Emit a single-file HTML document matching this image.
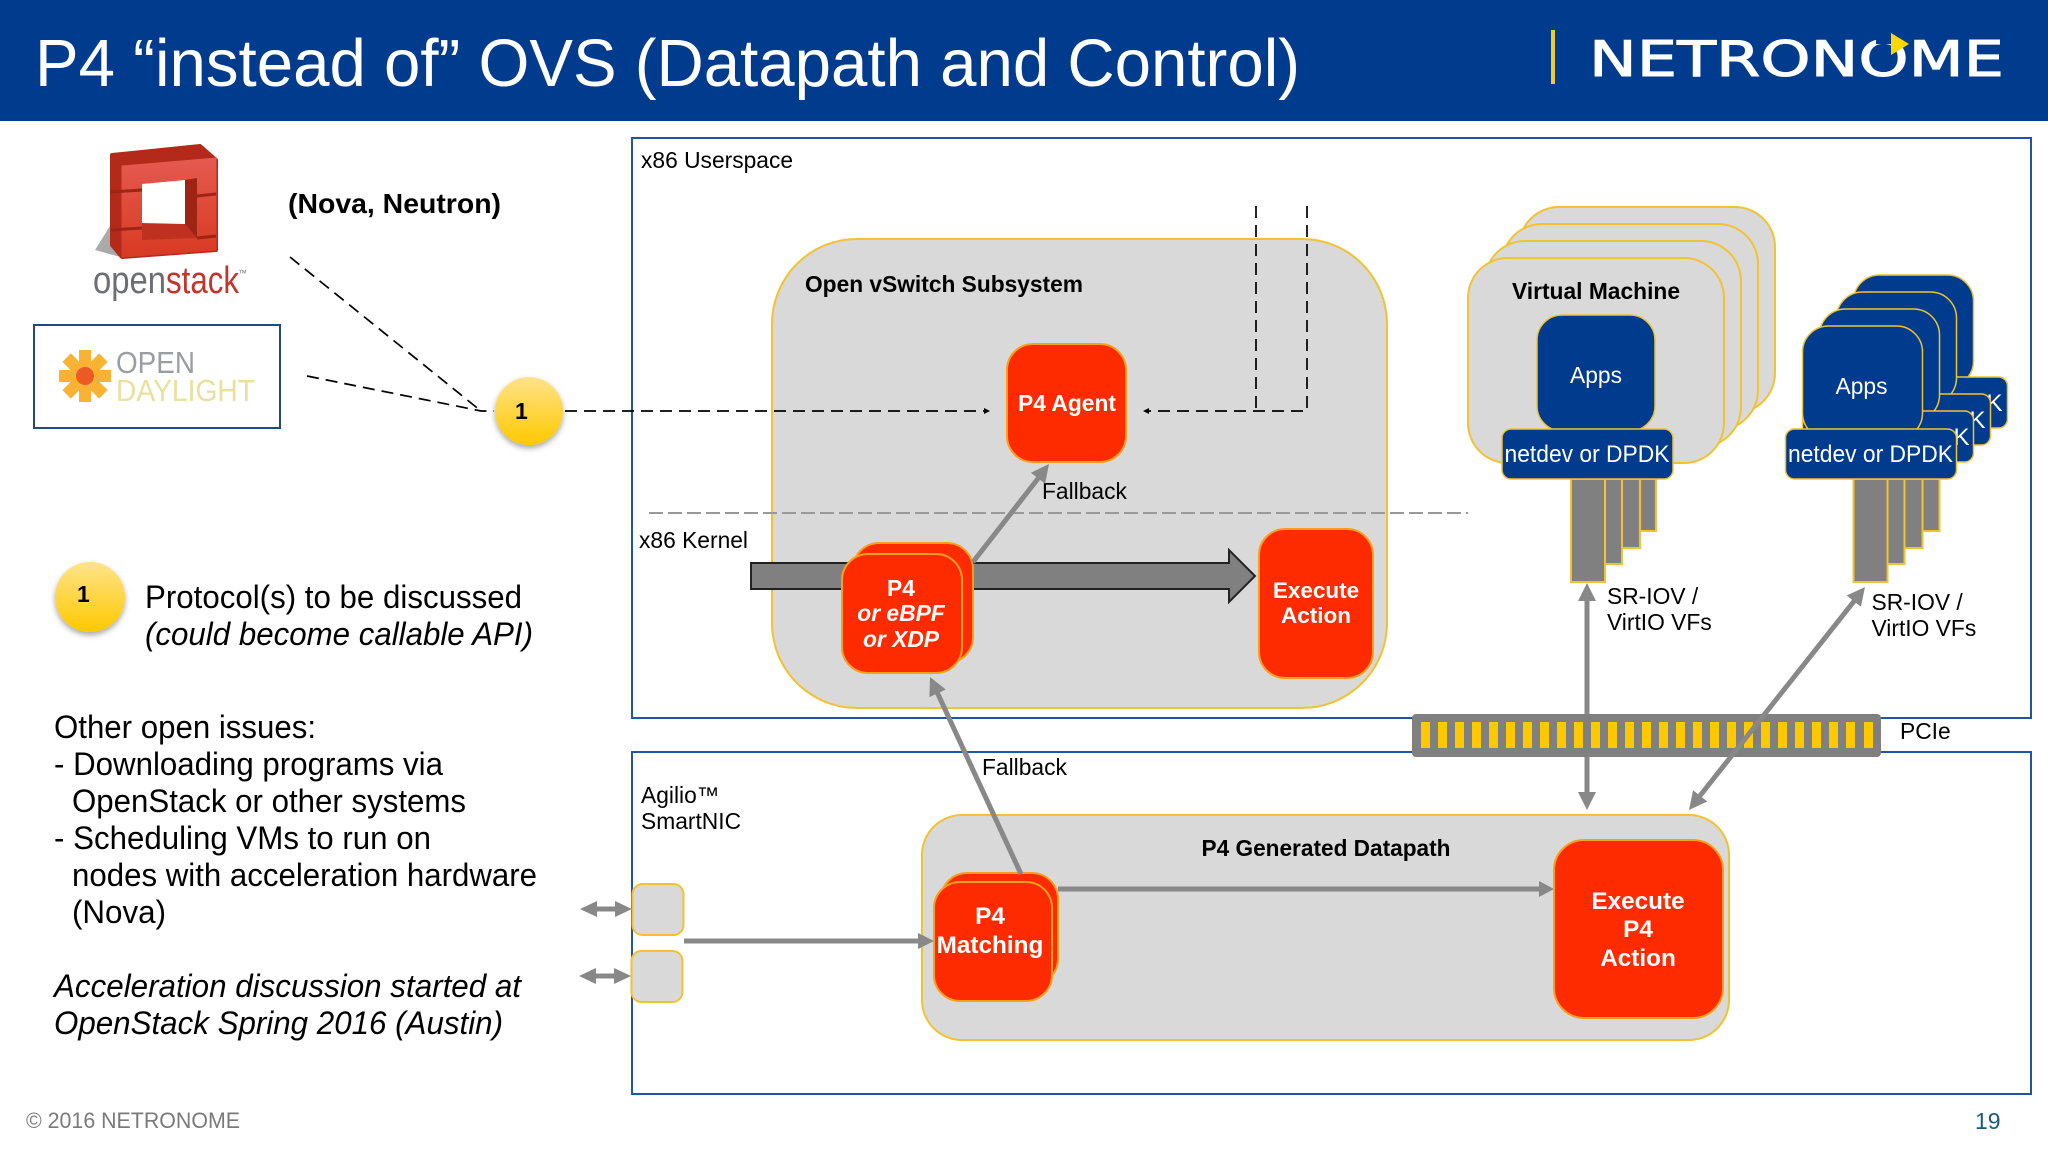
<!DOCTYPE html>
<html><head><meta charset="utf-8"><style>
html,body{margin:0;padding:0;background:#fff;width:2048px;height:1152px;overflow:hidden}
svg{display:block}
text{font-family:"Liberation Sans",sans-serif;fill:#000}
.g{fill:#d9d9d9;stroke:#f2c230;stroke-width:2}
.r{fill:#ff2b00;stroke:#f9a01b;stroke-width:2}
.b{fill:#013b8e;stroke:#f2c230;stroke-width:1.5}
.bar{fill:#808080;stroke:#f2c230;stroke-width:2}
.w{fill:#fff}
.wb{fill:#fff;font-weight:bold}
.l{font-size:22.8px}
.bd{font-size:22.8px;font-weight:bold}
.t{font-size:32px}
.ar{stroke:#888;stroke-width:5;fill:none}
.h{fill:#888}
.d{stroke:#000;stroke-width:1.7;stroke-dasharray:12 7;fill:none}
</style></head><body>
<svg width="2048" height="1152" viewBox="0 0 2048 1152" xmlns="http://www.w3.org/2000/svg">
<defs>
<linearGradient id="yg" x1="0" y1="0" x2="0" y2="1"><stop offset="0" stop-color="#ffe38a"/><stop offset="1" stop-color="#ffc800"/></linearGradient>
<linearGradient id="rg" x1="0" y1="0" x2="0" y2="1"><stop offset="0" stop-color="#e55a50"/><stop offset="1" stop-color="#d83a22"/></linearGradient>
<filter id="sh" x="-30%" y="-30%" width="160%" height="160%"><feDropShadow dx="0" dy="3" stdDeviation="3" flood-color="#000" flood-opacity=".35"/></filter>
</defs>

<!-- header -->
<rect x="0" y="0" width="2048" height="121" fill="#013b8e"/>
<text x="35" y="86" font-size="67" class="w" textLength="1265" lengthAdjust="spacingAndGlyphs">P4 “instead of” OVS (Datapath and Control)</text>
<rect x="1551" y="30" width="4" height="54" fill="#f2c92e"/>
<text x="1589" y="76" font-size="49" class="w" style="font-family:'DejaVu Sans',sans-serif;stroke:#fff;stroke-width:1" textLength="415" lengthAdjust="spacingAndGlyphs">NETRONOME</text>
<rect x="1876" y="36" width="33" height="8" fill="#013b8e"/>
<polygon points="1891,33 1909,44 1891,55" fill="#ffd800"/>

<!-- containers -->
<rect x="632" y="138" width="1399" height="580" fill="#fff" stroke="#1f54a6" stroke-width="2"/>
<rect x="632" y="752" width="1399" height="342" fill="#fff" stroke="#1f54a6" stroke-width="2"/>
<text x="641" y="168" class="l">x86 Userspace</text>

<!-- openstack logo -->
<polygon points="95,250 110,226 124,258" fill="#aaa"/>
<polygon points="112,155 200,146 216,160 216,250 122,257 112,245" fill="#b32a1b" stroke="#b32a1b" stroke-width="4" stroke-linejoin="round"/>
<polygon points="122,166 216,158 216,250 122,257" fill="url(#rg)" stroke="url(#rg)" stroke-width="1"/>
<polygon points="185,180 197,178 197,238 185,224" fill="#9e2413"/>
<polygon points="142,223 185,224 197,238 142,240" fill="#c03020"/>
<polygon points="142,184 185,180 185,224 142,223" fill="#fff"/>
<path d="M111,192 L142,190 M111,230 L142,228 M197,196 L216,194 M197,238 L216,236" stroke="#9e2413" stroke-width="3" fill="none"/>
<text x="93" y="293" font-size="38" style="fill:#6d6e71" textLength="73" lengthAdjust="spacingAndGlyphs">open</text>
<text x="166" y="293" font-size="38" style="fill:#c0362c" textLength="73" lengthAdjust="spacingAndGlyphs">stack</text>
<text x="238" y="276" font-size="9" style="fill:#777">™</text>

<!-- opendaylight -->
<rect x="34" y="325" width="246" height="103" fill="#fff" stroke="#1f4a8a" stroke-width="2"/>
<g fill="#f9b233">
<rect x="79" y="350" width="12" height="52"/>
<rect x="79" y="350" width="12" height="52" transform="rotate(45 85 376)"/>
<rect x="79" y="350" width="12" height="52" transform="rotate(90 85 376)"/>
<rect x="79" y="350" width="12" height="52" transform="rotate(135 85 376)"/>
</g>
<circle cx="85" cy="376" r="9" fill="#ef5a24"/>
<text x="116" y="373" font-size="31" style="fill:#9a9da1" textLength="79" lengthAdjust="spacingAndGlyphs">OPEN</text>
<text x="116" y="401" font-size="31" style="fill:#eadf9c" textLength="139" lengthAdjust="spacingAndGlyphs">DAYLIGHT</text>

<text x="288" y="213" font-size="28" font-weight="bold" textLength="213" lengthAdjust="spacingAndGlyphs">(Nova, Neutron)</text>

<!-- OVS subsystem -->
<rect class="g" x="772" y="239" width="615" height="469" rx="85" ry="85"/>
<text x="805" y="292" class="bd" textLength="278" lengthAdjust="spacingAndGlyphs">Open vSwitch Subsystem</text>

<!-- control dashes -->
<path class="d" d="M290,257 L481,411 M307,376 L481,411 L494,411"/>
<path class="d" d="M565,411 L985,411"/>
<polygon points="990,411 984,408 984,414"/>
<path class="d" d="M1256,206 L1256,411"/>
<path class="d" d="M1307,206 L1307,411 L1148,411"/>
<polygon points="1143,411 1149,408 1149,414"/>

<!-- kernel separator -->
<path d="M649,513 L1468,513" stroke="#999" stroke-width="2" stroke-dasharray="14 5" fill="none"/>
<text x="639" y="548" class="l">x86 Kernel</text>

<!-- big arrow -->
<polygon points="751,563 1229,563 1229,550 1255,576 1229,602 1229,589 751,589" fill="#808080" stroke="#222" stroke-width="2"/>

<!-- P4 Agent -->
<rect class="r" x="1007" y="344" width="119" height="118" rx="26"/>
<text x="1067" y="411" text-anchor="middle" class="wb" font-size="22.8">P4 Agent</text>
<text x="1042" y="499" class="l">Fallback</text>

<!-- P4 kernel stack -->
<rect class="r" x="853" y="543" width="120" height="120" rx="26"/>
<rect class="r" x="842" y="554" width="120" height="119" rx="26"/>
<text x="901" y="596" text-anchor="middle" class="wb" font-size="22.8">P4</text>
<text x="901" y="621" text-anchor="middle" class="wb" font-size="22.8" font-style="italic">or eBPF</text>
<text x="901" y="647" text-anchor="middle" class="wb" font-size="22.8" font-style="italic">or XDP</text>

<!-- Execute Action -->
<rect class="r" x="1259" y="529" width="114" height="149" rx="26"/>
<text x="1316" y="598" text-anchor="middle" class="wb" font-size="22.5">Execute</text>
<text x="1316" y="623" text-anchor="middle" class="wb" font-size="22.5">Action</text>

<!-- fallback arrow up -->
<line class="ar" x1="973" y1="562" x2="1040" y2="476"/>
<polygon class="h" points="1049,464 1045.1,483.7 1030.9,472.7"/>

<!-- VM stack -->
<rect class="g" x="1519" y="207" width="256" height="206" rx="40"/>
<rect class="g" x="1502" y="224" width="256" height="206" rx="40"/>
<rect class="g" x="1485" y="241" width="256" height="206" rx="40"/>
<rect class="g" x="1468" y="258" width="256" height="205" rx="40"/>
<text x="1596" y="299" text-anchor="middle" class="bd">Virtual Machine</text>
<rect class="b" x="1537" y="315" width="118" height="116" rx="25"/>
<text x="1596" y="383" text-anchor="middle" class="w l">Apps</text>
<rect class="bar" x="1640" y="479" width="16" height="52"/>
<rect class="bar" x="1622" y="479" width="18" height="69"/>
<rect class="bar" x="1605" y="479" width="17" height="85"/>
<rect class="bar" x="1571" y="479" width="34" height="103"/>
<rect class="b" x="1502" y="429" width="171" height="50" rx="9"/>
<text x="1587" y="462" text-anchor="middle" class="w" font-size="24" textLength="165" lengthAdjust="spacingAndGlyphs">netdev or DPDK</text>

<!-- Right stack -->
<g transform="translate(-1.5 0)">
<rect class="b" x="1855" y="275" width="120" height="112" rx="26"/>
<rect class="b" x="1838" y="377" width="171" height="51" rx="9"/>
<text x="1996" y="411" text-anchor="middle" class="w" font-size="24">K</text>
<rect class="b" x="1838" y="292" width="120" height="112" rx="26"/>
<rect class="b" x="1821" y="394" width="171" height="51" rx="9"/>
<text x="1979" y="428" text-anchor="middle" class="w" font-size="24">K</text>
<rect class="b" x="1821" y="309" width="120" height="112" rx="26"/>
<rect class="b" x="1804" y="411" width="171" height="51" rx="9"/>
<text x="1963" y="445" text-anchor="middle" class="w" font-size="24">K</text>
<rect class="b" x="1804" y="326" width="120" height="113" rx="26"/>
<text x="1863" y="394" text-anchor="middle" class="w l">Apps</text>
<rect class="bar" x="1924" y="479" width="17" height="52"/>
<rect class="bar" x="1906" y="479" width="18" height="69"/>
<rect class="bar" x="1889" y="479" width="17" height="85"/>
<rect class="bar" x="1855" y="479" width="34" height="103"/>
<rect class="b" x="1787" y="429" width="171" height="50" rx="9"/>
<text x="1872" y="462" text-anchor="middle" class="w" font-size="24" textLength="165" lengthAdjust="spacingAndGlyphs">netdev or DPDK</text>
</g>

<text x="1607" y="604" class="l">SR-IOV /</text>
<text x="1607" y="630" class="l">VirtIO VFs</text>
<text x="1871.5" y="610" class="l">SR-IOV /</text>
<text x="1871.5" y="636" class="l">VirtIO VFs</text>

<!-- SmartNIC -->
<text x="641" y="803" class="l">Agilio™</text>
<text x="641" y="829" class="l">SmartNIC</text>
<rect class="g" x="632.5" y="884" width="51" height="51" rx="10"/>
<rect class="g" x="631.5" y="951" width="51" height="51" rx="10"/>
<g class="h">
<polygon points="580,909 597,901 597,906.5 615,906.5 615,901 632,909 615,917 615,911.5 597,911.5 597,917"/>
<polygon points="579,976 596,968 596,973.5 614,973.5 614,968 631,976 614,984 614,978.5 596,978.5 596,984"/>
</g>

<rect class="g" x="922" y="815" width="807" height="225" rx="40"/>
<text x="1326" y="856" text-anchor="middle" class="bd" textLength="249" lengthAdjust="spacingAndGlyphs">P4 Generated Datapath</text>

<!-- P4 Matching -->
<rect class="r" x="941" y="873" width="117" height="112" rx="26"/>
<rect class="r" x="934" y="882" width="118" height="119" rx="26"/>
<text x="990" y="924" text-anchor="middle" class="wb" font-size="24.3">P4</text>
<text x="990" y="953" text-anchor="middle" class="wb" font-size="24.3">Matching</text>
<line class="ar" x1="684" y1="941" x2="920" y2="941"/>
<polygon class="h" points="934,941 918,933 918,949"/>
<line class="ar" x1="1058" y1="889" x2="1540" y2="889"/>
<polygon class="h" points="1554,889 1539,881 1539,897"/>

<!-- Execute P4 Action -->
<rect class="r" x="1554" y="840" width="169" height="178" rx="30"/>
<text x="1638" y="909" text-anchor="middle" class="wb" font-size="24.3">Execute</text>
<text x="1638" y="937" text-anchor="middle" class="wb" font-size="24.3">P4</text>
<text x="1638" y="966" text-anchor="middle" class="wb" font-size="24.3">Action</text>

<!-- Lower fallback -->
<line class="ar" x1="1021" y1="874" x2="937" y2="692"/>
<polygon class="h" points="930,677 945.8,689.5 929.4,697.1"/>
<text x="982" y="775" class="l">Fallback</text>

<!-- vertical arrow -->
<line class="ar" x1="1587" y1="598" x2="1587" y2="796"/>
<polygon class="h" points="1587,583 1578,601 1596,601"/>
<polygon class="h" points="1587,810 1578,792 1596,792"/>

<!-- PCIe -->
<rect x="1412" y="714" width="469" height="43" rx="4" fill="#808080"/>
<g fill="#ffc800">
<rect x="1421" y="722" width="9" height="26"/><rect x="1438" y="722" width="9" height="26"/><rect x="1455" y="722" width="9" height="26"/><rect x="1472" y="722" width="9" height="26"/><rect x="1489" y="722" width="9" height="26"/><rect x="1506" y="722" width="9" height="26"/><rect x="1523" y="722" width="9" height="26"/><rect x="1540" y="722" width="9" height="26"/><rect x="1557" y="722" width="9" height="26"/><rect x="1574" y="722" width="9" height="26"/><rect x="1591" y="722" width="9" height="26"/><rect x="1608" y="722" width="9" height="26"/><rect x="1625" y="722" width="9" height="26"/><rect x="1642" y="722" width="9" height="26"/><rect x="1659" y="722" width="9" height="26"/><rect x="1676" y="722" width="9" height="26"/><rect x="1693" y="722" width="9" height="26"/><rect x="1710" y="722" width="9" height="26"/><rect x="1727" y="722" width="9" height="26"/><rect x="1744" y="722" width="9" height="26"/><rect x="1761" y="722" width="9" height="26"/><rect x="1778" y="722" width="9" height="26"/><rect x="1795" y="722" width="9" height="26"/><rect x="1812" y="722" width="9" height="26"/><rect x="1829" y="722" width="9" height="26"/><rect x="1846" y="722" width="9" height="26"/><rect x="1864" y="722" width="9" height="26"/>
</g>
<text x="1900" y="739" class="l">PCIe</text>

<!-- diagonal -->
<line class="ar" x1="1855" y1="600" x2="1699" y2="797"/>
<polygon class="h" points="1865,587 1860.9,606.7 1846.7,595.5"/>
<polygon class="h" points="1689,810 1707.3,801.5 1693.1,790.3"/>

<!-- circles -->
<circle cx="529" cy="411" r="34" fill="url(#yg)" filter="url(#sh)"/>
<text x="515" y="419" font-size="23" font-weight="bold">1</text>
<circle cx="90" cy="597" r="35" fill="url(#yg)" filter="url(#sh)"/>
<text x="77" y="602" font-size="23" font-weight="bold">1</text>

<!-- left text -->
<text x="145" y="608" class="t" textLength="377" lengthAdjust="spacingAndGlyphs">Protocol(s) to be discussed</text>
<text x="145" y="645" class="t" font-style="italic" textLength="388" lengthAdjust="spacingAndGlyphs">(could become callable API)</text>
<text x="54" y="738" class="t" textLength="262" lengthAdjust="spacingAndGlyphs">Other open issues:</text>
<text x="54" y="775" class="t" textLength="389" lengthAdjust="spacingAndGlyphs">- Downloading programs via</text>
<text x="72" y="812" class="t" textLength="394" lengthAdjust="spacingAndGlyphs">OpenStack or other systems</text>
<text x="54" y="849" class="t" textLength="377" lengthAdjust="spacingAndGlyphs">- Scheduling VMs to run on</text>
<text x="72" y="886" class="t" textLength="465" lengthAdjust="spacingAndGlyphs">nodes with acceleration hardware</text>
<text x="72" y="923" class="t" textLength="94" lengthAdjust="spacingAndGlyphs">(Nova)</text>
<text x="54" y="997" class="t" font-style="italic" textLength="467" lengthAdjust="spacingAndGlyphs">Acceleration discussion started at</text>
<text x="54" y="1034" class="t" font-style="italic" textLength="449" lengthAdjust="spacingAndGlyphs">OpenStack Spring 2016 (Austin)</text>

<!-- footer -->
<text x="26" y="1128" font-size="22" style="fill:#7a7a7a" textLength="214" lengthAdjust="spacingAndGlyphs">© 2016 NETRONOME</text>
<text x="1975" y="1129" font-size="23" style="fill:#1b5a80">19</text>
</svg>
</body></html>
